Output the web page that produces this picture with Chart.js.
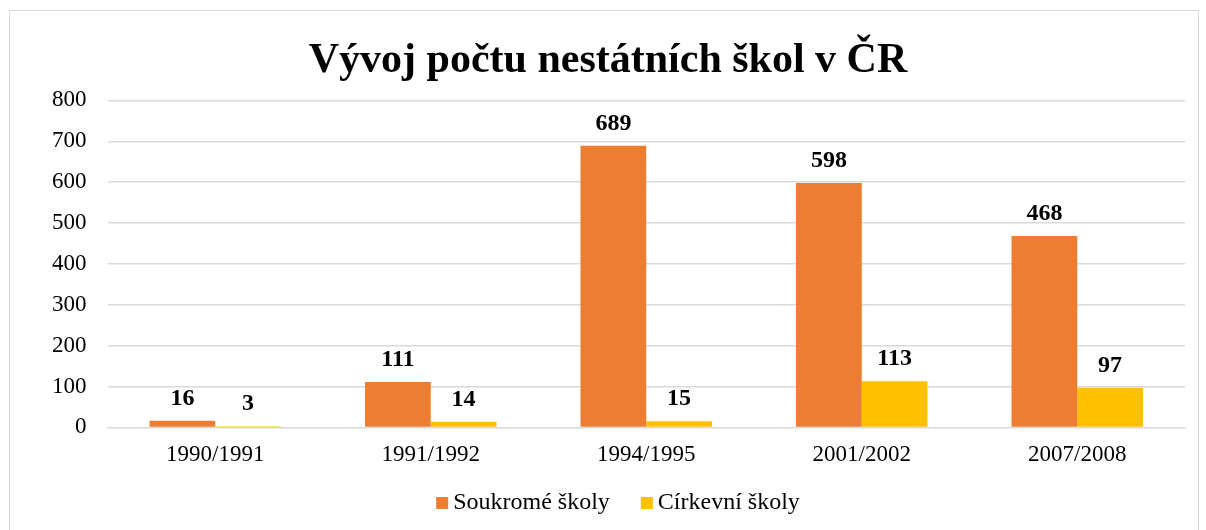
<!DOCTYPE html>
<html><head><meta charset="utf-8">
<script src="https://cdn.jsdelivr.net/npm/chart.js@4"></script>
<style>html,body{margin:0;padding:0;background:#fff}#w{position:absolute;left:0;top:0;width:1206px;height:530px}</style>
</head><body><div id="w"><canvas id="c" width="1206" height="530"></canvas></div>
<script>
const categories = ["1990/1991","1991/1992","1994/1995","2001/2002","2007/2008"];
const soukrome = [16,111,689,598,468];
const cirkevni = [3,14,15,113,97];
const seriesNames = ["Soukromé školy","Církevní školy"];
const seriesColors = ["#ed7d31","#ffc000"];
const titleText = "Vývoj počtu nestátních škol v ČR";
const FONT = "'Liberation Serif','Times New Roman',serif";

const frame = {id:'frame', beforeDraw(c){const x=c.ctx;x.save();x.fillStyle='#fff';x.fillRect(0,0,c.width,c.height);x.strokeStyle='#d9d9d9';x.lineWidth=1;x.strokeRect(9.5,10.5,1189,530);x.restore();}};
const labels = {id:'labels', afterDatasetsDraw(c){const x=c.ctx;x.save();x.font="bold 24px "+FONT;x.fillStyle='#000';x.textAlign='center';x.textBaseline='middle';
 c.data.datasets.forEach((d,i)=>{c.getDatasetMeta(i).data.forEach((b,j)=>{x.fillText(String(d.data[j]),b.x,b.y-22);});});x.restore();}};
const legend = {id:'customLegend', afterDraw(c){const x=c.ctx;x.save();x.font="24px "+FONT;x.textBaseline='alphabetic';x.textAlign='left';
 const box=12, gap=5, sep=31;
 const ws=c.data.datasets.map(d=>x.measureText(d.label).width);
 let total=0; ws.forEach((w,i)=>{total+=box+gap+w+(i<ws.length-1?sep:0);});
 let cx=618-total/2; const base=509;
 c.data.datasets.forEach((d,i)=>{x.fillStyle=d.backgroundColor;x.fillRect(cx,base-12,box,box);x.fillStyle='#000';x.fillText(d.label,cx+box+gap,base);cx+=box+gap+ws[i]+sep;});
 x.restore();}};

new Chart(document.getElementById('c'),{type:'bar',
 data:{labels:categories,datasets:[
  {label:seriesNames[0],data:soukrome,backgroundColor:seriesColors[0],categoryPercentage:0.61,barPercentage:1},
  {label:seriesNames[1],data:cirkevni,backgroundColor:seriesColors[1],categoryPercentage:0.61,barPercentage:1}]},
 options:{responsive:false,animation:false,
  layout:{padding:{left:31,right:21,top:23,bottom:55}},
  plugins:{
   title:{display:true,text:titleText,color:'#000',font:{family:FONT,size:42,weight:'bold'},padding:{top:13,bottom:14}},
   legend:{display:false},
   tooltip:{enabled:false}},
  scales:{
   x:{grid:{display:false},border:{color:'#d9d9d9'},ticks:{color:'#000',font:{family:FONT,size:23},padding:6}},
   y:{min:0,max:800,ticks:{stepSize:100,color:'#000',font:{family:FONT,size:23},padding:21},grid:{color:'#d9d9d9',lineWidth:1.5,drawTicks:false},border:{display:false}}}
 },plugins:[frame,labels,legend]});
</script></body></html>
